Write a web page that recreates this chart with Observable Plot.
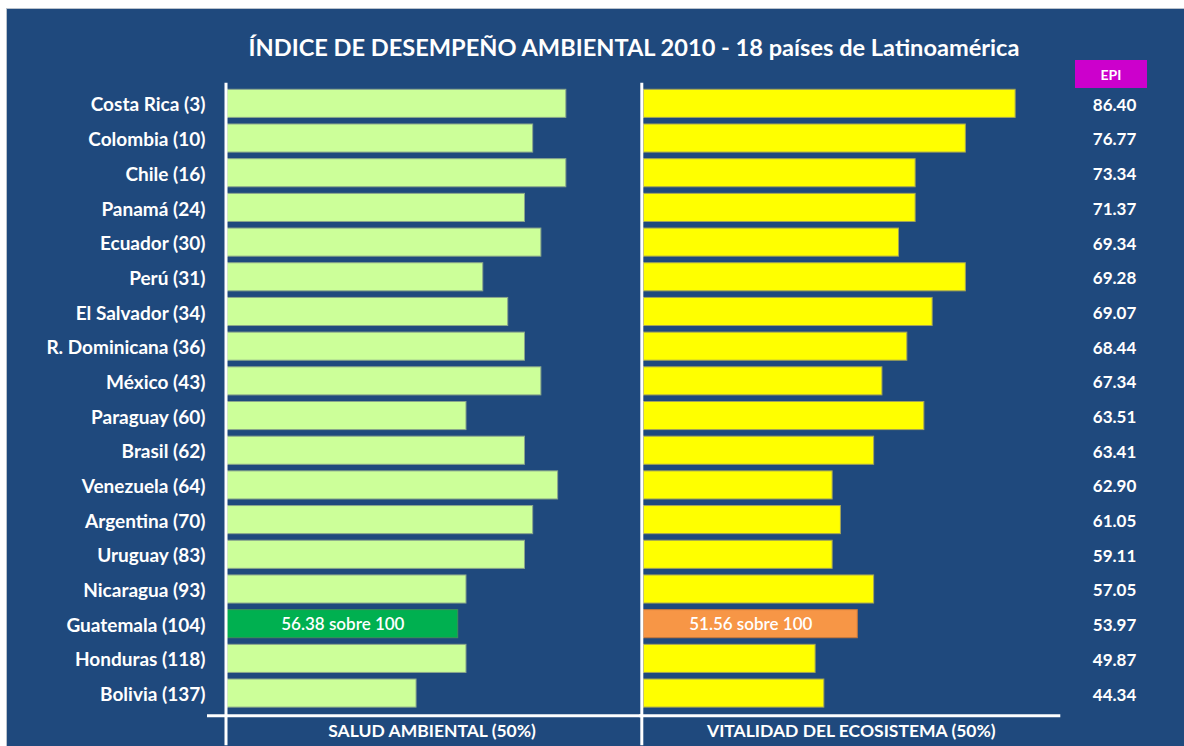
<!DOCTYPE html>
<html>
<head>
<meta charset="utf-8">
<script src="https://cdn.jsdelivr.net/npm/d3@7"></script>
<script src="https://cdn.jsdelivr.net/npm/@observablehq/plot@0.6"></script>
<style>
  html, body { margin: 0; padding: 0; background: #fff; }
  #wrap { position: relative; width: 1184px; height: 746px; overflow: hidden; background: #fff; font-family: Lato, "Open Sans", sans-serif; }
  #bg { position: absolute; left: 6px; top: 8px; right: 0; bottom: 0; background: #1F497D; border-top: 1px solid #b9c2cc; border-left: 1px solid #b9c2cc; }
  .layer { position: absolute; left: 0; top: 0; }
  #title { position: absolute; left: 134px; width: 1000px; top: 32px; text-align: center; color: #fff; font-weight: 700; font-size: 23.6px; line-height: 30px; white-space: nowrap; }
  #epihead { position: absolute; left: 1075px; top: 60px; width: 72px; height: 28px; background: #CC00CC; color: #fff; font-weight: 700; font-size: 14px; line-height: 29px; text-align: center; }
</style>
</head>
<body>
<div id="wrap">
  <div id="bg"></div>
  <div id="title">ÍNDICE DE DESEMPEÑO AMBIENTAL 2010 - 18 países de Latinoamérica</div>
  <div id="epihead">EPI</div>
  <div id="left" class="layer"></div>
  <div id="right" class="layer"></div>
</div>
<script>
// ---- data ----
const countries = [
  "Costa Rica (3)", "Colombia (10)", "Chile (16)", "Panamá (24)", "Ecuador (30)",
  "Perú (31)", "El Salvador (34)", "R. Dominicana (36)", "México (43)", "Paraguay (60)",
  "Brasil (62)", "Venezuela (64)", "Argentina (70)", "Uruguay (83)", "Nicaragua (93)",
  "Guatemala (104)", "Honduras (118)", "Bolivia (137)"
];
const saludAmbiental = [82.8, 74.7, 82.8, 72.7, 76.7, 62.5, 68.6, 72.7, 76.7, 58.4,
                        72.7, 80.8, 74.7, 72.7, 58.4, 56.38, 58.4, 46.2];
const vitalidadEcosistema = [89.6, 77.6, 65.5, 65.5, 61.5, 77.6, 69.6, 63.5, 57.5, 67.6,
                             55.5, 45.5, 47.5, 45.5, 55.5, 51.56, 41.4, 43.5];
const epi = [86.40, 76.77, 73.34, 71.37, 69.34, 69.28, 69.07, 68.44, 67.34, 63.51,
             63.41, 62.90, 61.05, 59.11, 57.05, 53.97, 49.87, 44.34];
const highlight = "Guatemala (104)";
const panelTitles = ["SALUD AMBIENTAL (50%)", "VITALIDAD DEL ECOSISTEMA (50%)"];

const rows = countries.map((c, i) => ({
  country: c, salud: saludAmbiental[i], vit: vitalidadEcosistema[i], epi: epi[i], hl: c === highlight
}));

const FONT = "Lato, 'Open Sans', sans-serif";
const W = 1184, H = 746, MT = 82.7, MB = 32.3;
const yScale = { domain: countries, padding: 0.19, round: false, axis: null };

// ---- left panel ----
const left = Plot.plot({
  width: W, height: H,
  marginTop: MT, marginBottom: MB, marginLeft: 227, marginRight: W - 636.2,
  style: { background: "transparent", color: "white", fontFamily: FONT, overflow: "visible" },
  x: { domain: [0, 100], axis: null },
  y: yScale,
  marks: [
    Plot.barX(rows, { x: "salud", y: "country", fill: d => d.hl ? "#00B050" : "#CCFF99", stroke: d => d.hl ? "#3f8f5a" : "#8aa68c", strokeWidth: 1 }),
    Plot.text(rows.filter(d => d.hl), { x: d => d.salud / 2, y: "country", text: d => d.salud.toFixed(2) + " sobre 100", fill: "white", fontSize: 17, fontWeight: 600, fontFamily: FONT }),
    Plot.axisY({ anchor: "left", tickSize: 0, tickPadding: 22, dy: 1.5, fontSize: 19, fontWeight: "bold", fill: "white", fontFamily: FONT, label: null }),
    Plot.ruleX([0], { stroke: "white", strokeWidth: 3, dx: -1.5, insetBottom: -31.5 }),
    Plot.frame({ anchor: "bottom", stroke: "white", strokeWidth: 3, insetLeft: -19, insetRight: -4, dy: 1.5 }),
    Plot.text([panelTitles[0]], { frameAnchor: "bottom", lineAnchor: "middle", dy: 17.5, fill: "white", fontSize: 17.5, fontWeight: "bold", fontFamily: FONT })
  ]
});
document.getElementById("left").appendChild(left);

// ---- right panel ----
const right = Plot.plot({
  width: W, height: H,
  marginTop: MT, marginBottom: MB, marginLeft: 643.3, marginRight: W - 1058.3,
  style: { background: "transparent", color: "white", fontFamily: FONT, overflow: "visible" },
  x: { domain: [0, 100], axis: null },
  y: yScale,
  marks: [
    Plot.barX(rows, { x: "vit", y: "country", fill: d => d.hl ? "#F79646" : "#FFFF00", stroke: d => d.hl ? "#c8783a" : "#a3a35a", strokeWidth: 1 }),
    Plot.text(rows.filter(d => d.hl), { x: d => d.vit / 2, y: "country", text: d => d.vit.toFixed(2) + " sobre 100", fill: "white", fontSize: 17, fontWeight: 600, fontFamily: FONT }),
    Plot.text(rows, { y: "country", frameAnchor: "right", dx: 55.7, dy: 1.5, textAnchor: "middle", text: d => d.epi.toFixed(2), fill: "white", fontSize: 17, fontWeight: "bold", fontFamily: FONT }),
    Plot.ruleX([0], { stroke: "white", strokeWidth: 3, dx: -2, insetBottom: -31.5 }),
    Plot.frame({ anchor: "bottom", stroke: "white", strokeWidth: 3, insetLeft: -3, dy: 1.5 }),
    Plot.text([panelTitles[1]], { frameAnchor: "bottom", lineAnchor: "middle", dy: 17.5, fill: "white", fontSize: 17.5, fontWeight: "bold", fontFamily: FONT })
  ]
});
document.getElementById("right").appendChild(right);
</script>
</body>
</html>
